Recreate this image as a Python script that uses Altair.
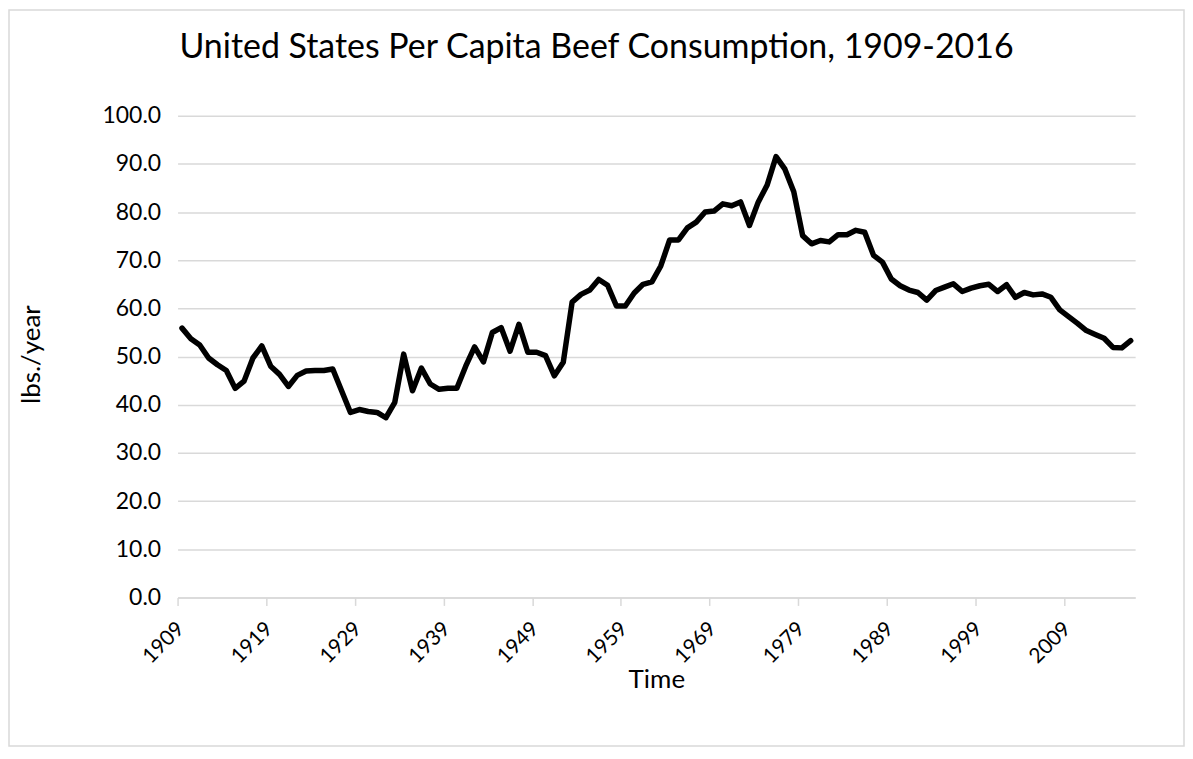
import altair as alt
import pandas as pd

years = list(range(1909, 2017))
beef = [
    55.9, 53.7, 52.4, 49.7, 48.3, 47.1, 43.4, 44.9, 49.7, 52.2,
    48.0, 46.3, 43.8, 46.1, 47.0, 47.1, 47.1, 47.4, 42.9, 38.4,
    39.0, 38.6, 38.4, 37.3, 40.5, 50.5, 42.9, 47.6, 44.3, 43.2,
    43.4, 43.4, 48.0, 52.0, 48.9, 55.0, 56.0, 51.1, 56.7, 50.9,
    50.9, 50.2, 46.0, 48.8, 61.3, 62.9, 63.8, 66.0, 64.8, 60.5,
    60.5, 63.2, 65.0, 65.5, 68.8, 74.2, 74.2, 76.7, 77.9, 80.0,
    80.2, 81.7, 81.3, 82.1, 77.2, 82.1, 85.6, 91.5, 88.9, 84.2,
    75.1, 73.4, 74.1, 73.8, 75.3, 75.3, 76.2, 75.8, 71.0, 69.6,
    66.1, 64.7, 63.8, 63.3, 61.7, 63.7, 64.4, 65.1, 63.5, 64.2,
    64.7, 65.0, 63.5, 64.9, 62.3, 63.3, 62.8, 63.0, 62.3, 59.7,
    58.3, 56.9, 55.4, 54.6, 53.8, 51.9, 51.8, 53.3,
]
tick_years = [1909, 1919, 1929, 1939, 1949, 1959, 1969, 1979, 1989, 1999, 2009]
y_ticks = [0, 10, 20, 30, 40, 50, 60, 70, 80, 90, 100]
title_text = "United States Per Capita Beef Consumption, 1909-2016"

df = pd.DataFrame({"year": years, "lbs": beef})
tick_pos = [t - 0.5 for t in tick_years]

FONT = "Lato"
one = pd.DataFrame({"a": [0]})

border = alt.Chart(one).mark_rect(
    filled=False, stroke="#d9d9d9", strokeWidth=1.5
).encode(
    x=alt.value(-169), x2=alt.value(1009), y=alt.value(-106), y2=alt.value(632)
)

title = alt.Chart(one).mark_text(
    font=FONT, fontSize=34, color="black", align="center", baseline="middle"
).encode(
    x=alt.value(420), y=alt.value(-68), text=alt.value(title_text)
)

line = alt.Chart(df).mark_line(
    color="black", strokeWidth=5.5, strokeJoin="round", strokeCap="round"
).encode(
    x=alt.X(
        "year:Q",
        scale=alt.Scale(domain=[1908.5, 2016.5], nice=False, zero=False),
        axis=alt.Axis(
            values=tick_pos,
            labelExpr="format(datum.value + 0.5, 'd')",
            labelAngle=-45,
            labelAlign="right",
            labelBaseline="middle",
            labelFontSize=21,
            labelOffset=3,
            labelPadding=20,
            grid=False,
            domainColor="#d9d9d9",
            domainWidth=1.5,
            tickColor="#d9d9d9",
            tickWidth=1.5,
            tickSize=8,
            titleX=480,
            titleY=82,
            titleBaseline="middle",
        ),
        title="Time",
    ),
    y=alt.Y(
        "lbs:Q",
        scale=alt.Scale(domain=[0, 100], nice=False),
        axis=alt.Axis(
            values=y_ticks,
            format=".1f",
            domain=False,
            ticks=False,
            labelFontSize=23,
            labelPadding=17,
            gridColor="#d9d9d9",
            gridWidth=1.5,
            titleX=-146,
            titleY=239,
            titleAngle=-90,
            titleAlign="center",
            titleBaseline="middle",
        ),
        title="lbs./year",
    ),
)

chart = alt.layer(border, title, line).properties(
    width=960,
    height=483,
    autosize=alt.AutoSizeParams(type="none"),
    padding={"left": 170, "top": 107, "right": 50, "bottom": 150},
).configure_view(stroke=None).configure_axis(
    labelFont=FONT,
    labelColor="black",
    titleFont=FONT,
    titleFontSize=26,
    titleFontWeight="normal",
    titleColor="black",
)

chart.save("out.html", embed_options={"renderer": "svg", "actions": False})
